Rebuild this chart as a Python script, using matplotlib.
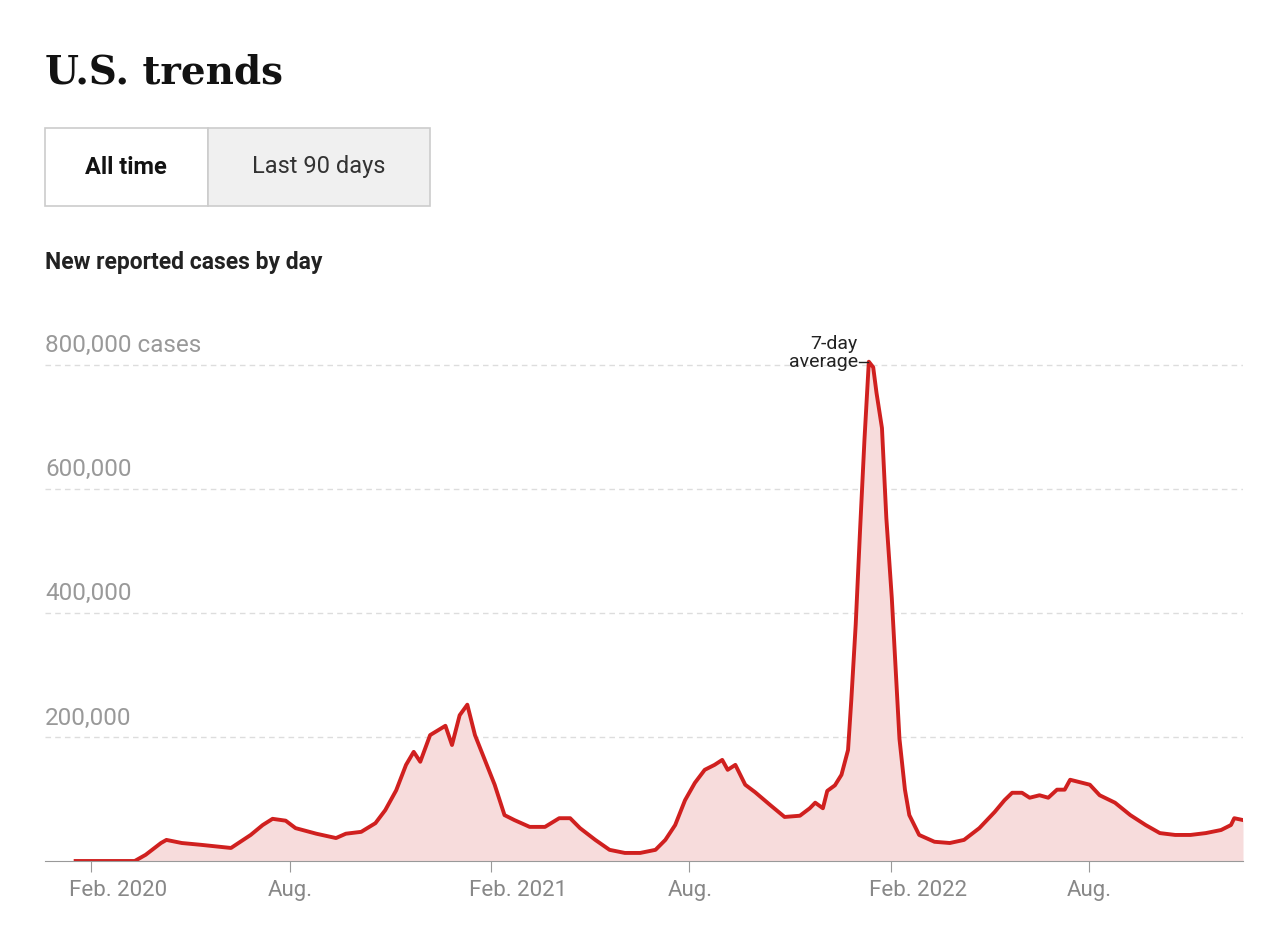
import numpy as np
import pandas as pd
import matplotlib.pyplot as plt
import matplotlib.transforms as mtransforms
from matplotlib.patches import Rectangle

plt.rcParams['font.family'] = ['Roboto', 'DejaVu Sans']

# 7-day average of new reported cases (thousands)
points = [
    ("2020-01-18", 0), ("2020-03-12", 0), ("2020-03-22", 10), ("2020-04-05", 29),
    ("2020-04-10", 34), ("2020-04-24", 29), ("2020-05-12", 26), ("2020-06-08", 21),
    ("2020-06-26", 42), ("2020-07-07", 58), ("2020-07-16", 68), ("2020-07-28", 65),
    ("2020-08-06", 53), ("2020-08-25", 44), ("2020-09-12", 37), ("2020-09-21", 44),
    ("2020-10-05", 47), ("2020-10-18", 61), ("2020-10-27", 82), ("2020-11-06", 114),
    ("2020-11-15", 155), ("2020-11-22", 176), ("2020-11-28", 160), ("2020-12-07", 203),
    ("2020-12-21", 218), ("2020-12-27", 187), ("2021-01-03", 235), ("2021-01-10", 252),
    ("2021-01-17", 203), ("2021-01-26", 163), ("2021-02-04", 123), ("2021-02-13", 74),
    ("2021-02-22", 66), ("2021-03-08", 55), ("2021-03-22", 55), ("2021-04-04", 69),
    ("2021-04-14", 69), ("2021-04-23", 53), ("2021-05-07", 34), ("2021-05-20", 18),
    ("2021-06-03", 13), ("2021-06-17", 13), ("2021-07-01", 18), ("2021-07-10", 34),
    ("2021-07-19", 58), ("2021-07-28", 98), ("2021-08-06", 126), ("2021-08-15", 147),
    ("2021-08-24", 155), ("2021-08-31", 163), ("2021-09-05", 147), ("2021-09-12", 155),
    ("2021-09-21", 123), ("2021-09-30", 111), ("2021-10-14", 90), ("2021-10-27", 71),
    ("2021-11-10", 73), ("2021-11-19", 85), ("2021-11-24", 94), ("2021-12-01", 85),
    ("2021-12-05", 113), ("2021-12-12", 122), ("2021-12-18", 139), ("2021-12-24", 179),
    ("2021-12-27", 260), ("2021-12-31", 381), ("2022-01-04", 534), ("2022-01-08", 679),
    ("2022-01-12", 805), ("2022-01-16", 796), ("2022-01-19", 755), ("2022-01-24", 698),
    ("2022-01-28", 553), ("2022-02-02", 424), ("2022-02-06", 294), ("2022-02-09", 197),
    ("2022-02-14", 115), ("2022-02-18", 74), ("2022-02-27", 42), ("2022-03-13", 31),
    ("2022-03-27", 29), ("2022-04-09", 34), ("2022-04-23", 53), ("2022-05-07", 79),
    ("2022-05-16", 98), ("2022-05-23", 110), ("2022-06-01", 110), ("2022-06-08", 102),
    ("2022-06-17", 106), ("2022-06-25", 102), ("2022-07-03", 115), ("2022-07-10", 115),
    ("2022-07-15", 131), ("2022-07-24", 127), ("2022-08-02", 123), ("2022-08-11", 106),
    ("2022-08-25", 94), ("2022-09-08", 74), ("2022-09-22", 58), ("2022-10-05", 45),
    ("2022-10-19", 42), ("2022-11-02", 42), ("2022-11-16", 45), ("2022-11-30", 50),
    ("2022-12-09", 58), ("2022-12-12", 69), ("2022-12-20", 66),
]
dates = pd.to_datetime([p[0] for p in points])
cases = np.array([p[1] for p in points]) * 1000

fig = plt.figure(figsize=(12.7, 9.36), dpi=100)

# Header
fig.text(45/1270, 1 - 72/936, "U.S. trends", family="DejaVu Serif", fontweight="bold",
         fontsize=28, va="center", color="#121212")
fig.patches.append(Rectangle((45/1270, 1 - 206/936), 163/1270, 78/936, transform=fig.transFigure,
                             facecolor="white", edgecolor="#cccccc", lw=1.2))
fig.patches.append(Rectangle((208/1270, 1 - 206/936), 222/1270, 78/936, transform=fig.transFigure,
                             facecolor="#f0f0f0", edgecolor="#cccccc", lw=1.2))
fig.text(126/1270, 1 - 167/936, "All time", fontsize=17, fontweight="bold", ha="center", va="center",
         color="#121212")
fig.text(319/1270, 1 - 167/936, "Last 90 days", fontsize=17, ha="center", va="center", color="#333333")
fig.text(45/1270, 1 - 262/936, "New reported cases by day", fontsize=16.5, fontweight="bold",
         va="center", color="#222222")

ax = fig.add_axes([45/1270, 75/936, 1198/1270, 521/936])
ax.fill_between(dates, cases, color="#f7dcdc", lw=0)
ax.plot(dates, cases, color="#d0201f", lw=2.8, solid_joinstyle="round")

ax.set_xlim(pd.Timestamp("2019-12-21"), pd.Timestamp("2022-12-20"))
ax.set_ylim(0, 840000)

for y in [200000, 400000, 600000, 800000]:
    ax.axhline(y, color="#dddddd", lw=1, ls=(0, (4, 3)), zorder=0)
    label = f"{y:,}" + (" cases" if y == 800000 else "")
    ax.text(0, y + 12000, label, transform=ax.get_yaxis_transform(), fontsize=17.5,
            color="#999999", va="bottom", ha="left")

# 7-day average label at the peak
ax.plot(pd.to_datetime(["2022-01-03", "2022-01-11"]), [805000, 805000], color="#222222", lw=1)
ax.text(pd.Timestamp("2022-01-02"), 790000, "7-day\naverage", fontsize=14, ha="right", va="bottom",
        color="#222222", linespacing=1.0)

ticks = pd.to_datetime(["2020-02-01", "2020-08-01", "2021-02-01", "2021-08-01", "2022-02-01", "2022-08-01"])
ax.set_xticks(ticks)
ax.set_xticklabels(["Feb. 2020", "Aug.", "Feb. 2021", "Aug.", "Feb. 2022", "Aug."], ha="left")
ax.tick_params(axis="x", length=8, color="#999999", labelsize=16, labelcolor="#888888", pad=6)
offset = mtransforms.ScaledTranslation(-22/100, 0, fig.dpi_scale_trans)
for lab in ax.get_xticklabels():
    lab.set_transform(lab.get_transform() + offset)
ax.set_yticks([])
for side in ["top", "right", "left"]:
    ax.spines[side].set_visible(False)
ax.spines["bottom"].set_color("#999999")

fig.savefig("out.png", dpi=100)
